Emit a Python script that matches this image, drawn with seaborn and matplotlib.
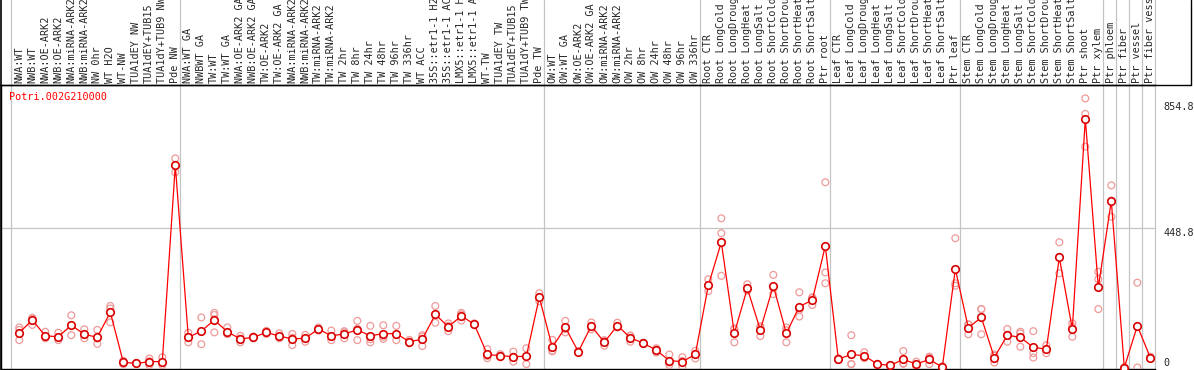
import matplotlib
matplotlib.use("Agg")
import matplotlib.pyplot as plt
from matplotlib.lines import Line2D
import numpy as np
import pandas as pd
import seaborn as sns

gene = "Potri.002G210000"

labels = [
    "NWA:WT", "NWB:WT", "NWA:OE-ARK2", "NWB:OE-ARK2", "NWA:miRNA-ARK2", "NWB:miRNA-ARK2",
    "NW 0hr", "WT H2O", "WT-NW", "TUA1dEY NW", "TUA1dEY+TUB15", "TUA1dY+TUB9 NW", "Pde NW",
    "NWA:WT GA", "NWBWT GA", "TW:WT", "TW:WT GA", "NWA:OE-ARK2 GA", "NWB:OE-ARK2 GA",
    "TW:OE-ARK2", "TW:OE-ARK2 GA", "NWA:miRNA-ARK2", "NWB:miRNA-ARK2", "TW:miRNA-ARK2",
    "TW:miRNA-ARK2", "TW 2hr", "TW 8hr", "TW 24hr", "TW 48hr", "TW 96hr", "TW 336hr",
    "WT ACC", "35S::etr1-1 H2", "35S::etr1-1 AC", "LMX5::etr1-1 H", "LMX5::etr1-1 A",
    "WT-TW", "TUA1dEY TW", "TUA1dEY+TUB15", "TUA1dY+TUB9 TW", "Pde TW",
    "OW:WT", "OW:WT GA", "OW:OE-ARK2", "OW:OE-ARK2 GA", "OW:miRNA-ARK2", "OW:miRNA-ARK2",
    "OW 2hr", "OW 8hr", "OW 24hr", "OW 48hr", "OW 96hr", "OW 336hr",
    "Root CTR", "Root LongCold", "Root LongDroug", "Root LongHeat", "Root LongSalt",
    "Root ShortCold", "Root ShortDrou", "Root ShortHeat", "Root ShortSalt", "Ptr root",
    "Leaf CTR", "Leaf LongCold", "Leaf LongDroug", "Leaf LongHeat", "Leaf LongSalt",
    "Leaf ShortCold", "Leaf ShortDrou", "Leaf ShortHeat", "Leaf ShortSalt", "Ptr leaf",
    "Stem CTR", "Stem LongCold", "Stem LongDroug", "Stem LongHeat", "Stem LongSalt",
    "Stem ShortCold", "Stem ShortDrou", "Stem ShortHeat", "Stem ShortSalt", "Ptr shoot",
    "Ptr xylem", "Ptr phloem", "Ptr fiber", "Ptr vessel", "Ptr fiber vess",
]

group_sizes = [13, 28, 12, 10, 10, 11, 1, 1, 1, 1]

means = [
    112, 153, 102, 99, 136, 107, 97, 178, 17, 13, 19, 19, 651,
    97, 117, 153, 115, 92, 97, 113, 101, 92, 94, 124, 102, 108, 121, 102, 109, 109,
    83, 91, 171, 131, 166, 139, 42, 38, 35, 36, 226,
    65, 129, 51, 134, 81, 135, 96, 78, 56, 22, 19, 42,
    264, 403, 110, 255, 121, 263, 110, 196, 217, 391,
    27, 42, 38, 11, 7, 26, 11, 26, 1, 317,
    128, 161, 32, 104, 97, 65, 59, 354, 124, 800, 258,
    536, 0, 134, 32,
]

rep1 = [
    129, 160, 115, 112, 168, 123, 121, 198, 22, 15, 29, 33, 673,
    112, 161, 176, 129, 102, 100, 118, 110, 108, 105, 129, 119, 113, 150, 134, 136, 134,
    89, 104, 198, 142, 176, 142, 59, 43, 51, 62, 239,
    89, 150, 53, 145, 88, 144, 102, 80, 62, 42, 33, 54,
    284, 480, 123, 268, 129, 298, 129, 242, 226, 596,
    30, 104, 49, 12, 8, 53, 19, 35, 4, 416,
    139, 188, 38, 124, 115, 117, 72, 403, 142, 866, 308,
    586, 1, 273, 35,
]

rep2 = [
    121, 137, 94, 88, 104, 94, 93, 190, 11, 12, 8, 8, 628,
    81, 75, 169, 108, 81, 94, 108, 94, 72, 83, 119, 88, 117, 88, 81, 99, 88,
    78, 99, 144, 117, 151, 136, 37, 38, 19, 35, 226,
    54, 113, 49, 123, 70, 129, 83, 76, 48, 8, 3, 29,
    246, 432, 81, 250, 101, 236, 81, 185, 201, 306,
    24, 11, 30, 10, 6, 12, 3, 11, 0, 271,
    107, 107, 16, 83, 110, 46, 46, 303, 99, 816, 284,
    485, 0, 0, 29,
]

rep3 = [
    88, 158, 100, 98, 136, 105, 76, 145, 17, 13, 20, 16, 652,
    98, 115, 113, 108, 93, 97, 113, 99, 96, 94, 124, 99, 94, 125, 91, 92, 105,
    83, 69, 171, 134, 171, 139, 30, 33, 35, 11, 213,
    52, 124, 51, 134, 85, 132, 103, 78, 58, 16, 21, 43,
    262, 295, 126, 247, 133, 255, 120, 164, 224, 271,
    27, 11, 35, 11, 7, 13, 11, 32, 0, 263,
    138, 188, 42, 105, 67, 32, 59, 356, 131, 711, 188,
    537, 0, 130, 32,
]

ytick_vals = [0, 448.8, 854.8]
ytick_text = ["0", "448.8", "854.8"]

# ---------------------------------------------------------------
W, H = 1194, 370
fig = plt.figure(figsize=(W / 100, H / 100), dpi=100)
sns.set_style("white")
mono = ["DejaVu Sans Mono"]
plt.rcParams["font.family"] = mono

ax_left_px, ax_right_px = 1, 1155
ax_top_px, ax_bot_px = 85, 369
ax = fig.add_axes([ax_left_px / W, (H - ax_bot_px) / H,
                   (ax_right_px - ax_left_px) / W, (ax_bot_px - ax_top_px) / H])

pos = np.arange(len(labels))
df_mean = pd.DataFrame({"pos": pos, "value": means})
df_rep = pd.DataFrame({
    "pos": np.concatenate([pos, pos, pos]),
    "value": np.concatenate([rep1, rep2, rep3]),
})

pink = "#ee9a9a"
sns.scatterplot(data=df_rep, x="pos", y="value", ax=ax, s=24, color=pink,
                edgecolor=pink, linewidth=0.9, zorder=3, legend=False)
ax.collections[-1].set_facecolor("none")

sns.lineplot(data=df_mean, x="pos", y="value", ax=ax, sort=False, color="#ff0000",
             linewidth=0.9, marker="o", markersize=5.4, markerfacecolor="white",
             markeredgecolor="#d80000", markeredgewidth=1.2, zorder=4, legend=False)

# axis limits (13 px per category)
ax.set_xlim(-1.408, 87.36)
ax.set_ylim(-4.8, 909)

# group separators
bounds = [-1 + 0.36] + list(np.cumsum(group_sizes) - 1 + 0.36)
for b in bounds:
    ax.axvline(b, ymin=0, ymax=ax_bot_px / (ax_bot_px - ax_top_px), color="#c4c4c4",
               lw=0.9, clip_on=False, zorder=1)
ax.axhline(448.8, color="#c4c4c4", lw=0.9, zorder=1)

# top category labels
ax.xaxis.tick_top()
ax.set_xticks(pos)
ax.set_xticklabels(labels, rotation=90, fontsize=7.3, fontfamily=mono)
ax.tick_params(axis="x", length=0, pad=1.2)
ax.set_xlabel("")

# right value labels
ax.yaxis.tick_right()
ax.set_yticks(ytick_vals)
ax.set_yticklabels(ytick_text, fontsize=7.3, fontfamily=mono)
ax.tick_params(axis="y", length=0, pad=5.8)
for t, v in zip(ax.get_yticklabels(), ytick_vals):
    t.set_va("bottom" if v == 0 else "top")
ax.set_ylabel("")

for side in ["left", "bottom", "top"]:
    ax.spines[side].set_visible(True)
    ax.spines[side].set_color("black")
    ax.spines[side].set_linewidth(1.0)
ax.spines["right"].set_visible(False)

ax.text(0.0072, 0.975, gene, transform=ax.transAxes, ha="left", va="top",
        color="#ff0000", fontsize=7.3, fontfamily=mono)

# frame of the label strip
yl = (H - ax_top_px) / H
fig.add_artist(Line2D([0, 1191 / W], [yl, yl], color="black", lw=1.0,
                      transform=fig.transFigure))
fig.add_artist(Line2D([1191 / W, 1191 / W], [yl, 1], color="black", lw=1.0,
                      transform=fig.transFigure))
fig.add_artist(Line2D([0.6 / W, 0.6 / W], [0, 1], color="black", lw=1.2,
                      transform=fig.transFigure))

fig.savefig("out.png", dpi=100, facecolor="white")
